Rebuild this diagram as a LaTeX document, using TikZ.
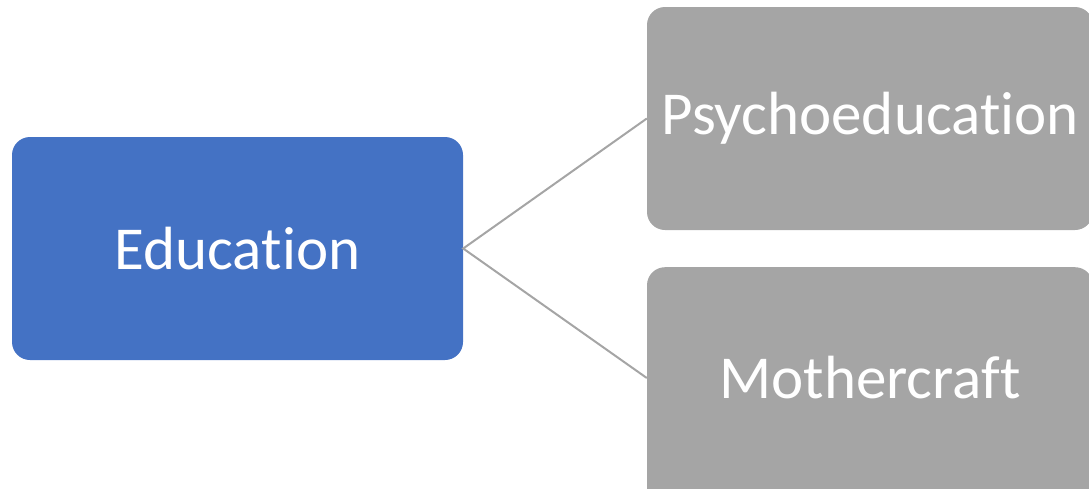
\documentclass[tikz,border=0pt]{standalone}
\usepackage{fontspec}
\setmainfont[Ligatures={NoCommon}]{Carlito}
\definecolor{boxblue}{HTML}{4472C4}
\definecolor{boxgray}{HTML}{A5A5A5}
\begin{document}
\begin{tikzpicture}[x=1pt,y=-1pt,
  cardtext/.style={text=white, font=\fontsize{61}{73}\selectfont, inner sep=0pt},
  card/.style={rectangle, rounded corners=18pt, cardtext},
  rootcard/.style={card, fill=boxblue, minimum width=451pt, minimum height=223pt},
  leafcard/.style={card, fill=boxgray, minimum width=446pt},
  link/.style={draw=boxgray, line width=2pt}]
\useasboundingbox (0,0) rectangle (1089,488);
\node[rootcard] (edu) at (237.5,248.5) {Education};
\node[leafcard, minimum height=223pt] (psy) at (870,118.5) {Psychoeducation};
% lower card runs past the bottom edge; its text sits at the card's visible middle
\node[leafcard, minimum height=250pt, anchor=north] (moth) at (870,267) {};
\node[cardtext] (mothlabel) at (870,378) {Mothercraft};
\draw[link] (psy.west) -- (edu.east) -- (moth.west |- mothlabel);
\end{tikzpicture}
\end{document}
